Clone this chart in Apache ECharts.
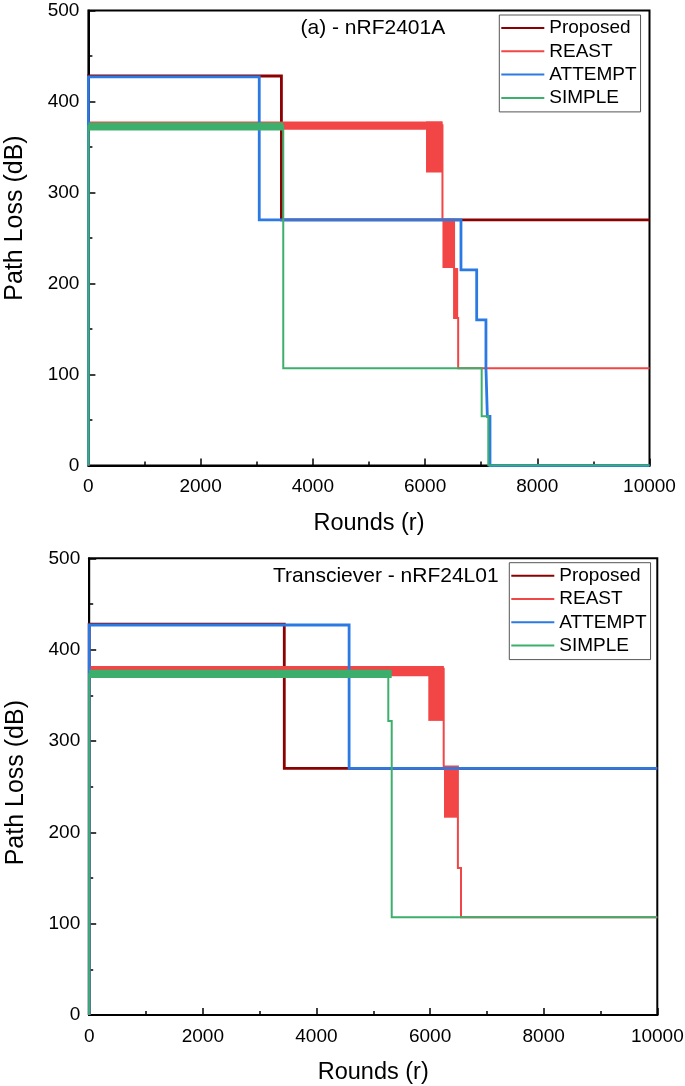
<!DOCTYPE html>
<html><head><meta charset="utf-8">
<script src="https://cdn.jsdelivr.net/npm/echarts@6/dist/echarts.min.js"></script>
<style>html,body{margin:0;padding:0;background:#fff}#c{width:685px;height:1086px}</style>
</head><body><div id="c"></div>
<script>
// ---- data ----
const seriesNames = ['Proposed', 'REAST', 'ATTEMPT', 'SIMPLE'];
const xTicks = [0, 2000, 4000, 6000, 8000, 10000];
const yTicks = [0, 100, 200, 300, 400, 500];
const panelTitles = ['(a) - nRF2401A', 'Transciever - nRF24L01'];
const xTitle = 'Rounds (r)';
const yTitle = 'Path Loss (dB)';

// panel (a) nRF2401A : [round, path loss]
const a_proposed = [[0,0],[0,428],[3440,428],[3440,270],[10000,270]];
const a_reast = [[0,0],[0,374],[6310,374],[6310,270],[6517,270],[6517,162],[6590,162],[6590,107],[10000,107]];
const a_attempt = [[0,0],[0,427],[3045,427],[3045,270],[6640,270],[6640,215],[6920,215],[6920,160],[7085,160],[7085,108],[7110,108],[7110,54],[7157,54],[7157,0],[10000,0]];
const a_simple = [[0,0],[0,373],[3473,373],[3473,107],[7009,107],[7009,54],[7127,54],[7127,0],[10000,0]];
// fluctuation bands: [round from, round to, low, high]
const a_reastBands = [[0,6310,369,378],[6017,6310,322,378],[6310,6517,217,270],[6517,6590,162,217]];
const a_simpleBands = [[0,3473,368,377]];

// panel (b) nRF24L01
const b_proposed = [[0,0],[0,428],[3434,428],[3434,270],[10000,270]];
const b_reast = [[0,0],[0,379],[6240,379],[6240,272],[6490,272],[6490,161],[6545,161],[6545,107],[10000,107]];
const b_attempt = [[0,0],[0,427],[4575,427],[4575,270],[10000,270]];
const b_simple = [[0,0],[0,373],[5265,373],[5265,322],[5325,322],[5325,107],[10000,107]];
const b_reastBands = [[0,6240,371,382],[5969,6240,322,382],[6245,6480,216,272]];
const b_simpleBands = [[0,5325,369,378]];

// ---- styles ----
const colors = {Proposed:'#8B0000', REAST:'#F24646', ATTEMPT:'#2B7AE3', SIMPLE:'#3CAF6C'};
const widths = {Proposed:2.8, REAST:2, ATTEMPT:2.8, SIMPLE:2};
const zs = {Proposed:2, REAST:3, ATTEMPT:4, SIMPLE:5};
const FONT = 'Liberation Sans, Arial, Helvetica, sans-serif';

const grids = [
  {left:88.4, top:10.5, width:561.1, height:455},
  {left:89.2, top:558.3, width:568.1, height:456.7}
];
const yNamePad = [[0,0,0,40],[0,0,0,8]];

function lineSeries(name, data, gi){
  return {type:'line', name, data, xAxisIndex:gi, yAxisIndex:gi, showSymbol:false, symbol:'none',
    z:zs[name], animation:false, clip:true,
    lineStyle:{color:colors[name], width:widths[name], join:'miter'}, itemStyle:{color:colors[name]}};
}
function bandSeries(name, data, gi){
  return {type:'custom', name, data, xAxisIndex:gi, yAxisIndex:gi, z:zs[name], animation:false,
    encode:{x:[0,1], y:[2,3]}, itemStyle:{color:colors[name]},
    renderItem(params, api){
      const p0 = api.coord([api.value(0), api.value(3)]);
      const p1 = api.coord([api.value(1), api.value(2)]);
      return {type:'rect', shape:{x:p0[0], y:p0[1], width:p1[0]-p0[0], height:p1[1]-p0[1]},
        style:{fill:colors[name]}};
    }};
}

const xAxes = grids.map((g,i)=>({
  type:'value', gridIndex:i, min:xTicks[0], max:xTicks[xTicks.length-1], interval:xTicks[1]-xTicks[0],
  name:xTitle, nameLocation:'middle', nameGap:46,
  nameTextStyle:{fontSize:23.5, color:'#000', fontFamily:FONT},
  axisLine:{show:true, onZero:false, lineStyle:{color:'#000', width:2}},
  axisTick:{show:true, inside:true, length:7, lineStyle:{color:'#000', width:1.5}},
  minorTick:{show:true, splitNumber:2, length:4, lineStyle:{color:'#000', width:1.5}},
  splitLine:{show:false},
  axisLabel:{fontSize:19, color:'#000', fontFamily:FONT, margin:12, formatter:v=>String(v)}
}));
const yAxes = grids.map((g,i)=>({
  type:'value', gridIndex:i, min:yTicks[0], max:yTicks[yTicks.length-1], interval:yTicks[1]-yTicks[0],
  name:yTitle, nameLocation:'middle', nameGap:61, nameRotate:90,
  nameTextStyle:{fontSize:25, color:'#000', fontFamily:FONT, padding:yNamePad[i]},
  axisLine:{show:true, onZero:false, lineStyle:{color:'#000', width:2}},
  axisTick:{show:true, inside:true, length:7, lineStyle:{color:'#000', width:1.5}},
  minorTick:{show:true, splitNumber:2, length:4, lineStyle:{color:'#000', width:1.5}},
  splitLine:{show:false},
  axisLabel:{fontSize:19, color:'#000', fontFamily:FONT, margin:9, formatter:v=>String(v)}
}));

const legendPos = [{left:499.3, top:15}, {left:509.3, top:562.7}];
const legends = legendPos.map(p=>({
  left:p.left, top:p.top, orient:'vertical', data:seriesNames, icon:'rect',
  itemWidth:43, itemHeight:2, itemGap:3.3, padding:[3,4,4,2],
  borderColor:'#555', borderWidth:1, backgroundColor:'#fff', selectedMode:false,
  textStyle:{fontSize:19, color:'#000', fontFamily:FONT, lineHeight:20}
}));

const titlePos = [{left:300.5, top:18}, {left:273, top:566}];
const titles = titlePos.map((p,i)=>({
  text:panelTitles[i], left:p.left, top:p.top, padding:0,
  textStyle:{fontSize:21, fontWeight:'normal', color:'#000', fontFamily:FONT}
}));

const panels = [
  {Proposed:a_proposed, REAST:a_reast, ATTEMPT:a_attempt, SIMPLE:a_simple, REAST_b:a_reastBands, SIMPLE_b:a_simpleBands},
  {Proposed:b_proposed, REAST:b_reast, ATTEMPT:b_attempt, SIMPLE:b_simple, REAST_b:b_reastBands, SIMPLE_b:b_simpleBands}
];
const series = [];
panels.forEach((p,gi)=>{ seriesNames.forEach(n=>series.push(lineSeries(n, p[n], gi))); });
panels.forEach((p,gi)=>{
  series.push(bandSeries('REAST', p.REAST_b, gi));
  series.push(bandSeries('SIMPLE', p.SIMPLE_b, gi));
});

const chart = echarts.init(document.getElementById('c'), null, {renderer:'canvas'});
chart.setOption({
  animation:false,
  backgroundColor:'#fff',
  color:seriesNames.map(n=>colors[n]),
  title:titles,
  legend:legends,
  grid:grids.map(g=>Object.assign({show:true, borderColor:'#000', borderWidth:2, backgroundColor:'transparent',
    containLabel:false, outerBoundsMode:'none'}, g)),
  xAxis:xAxes,
  yAxis:yAxes,
  series
});
</script>
</body></html>
